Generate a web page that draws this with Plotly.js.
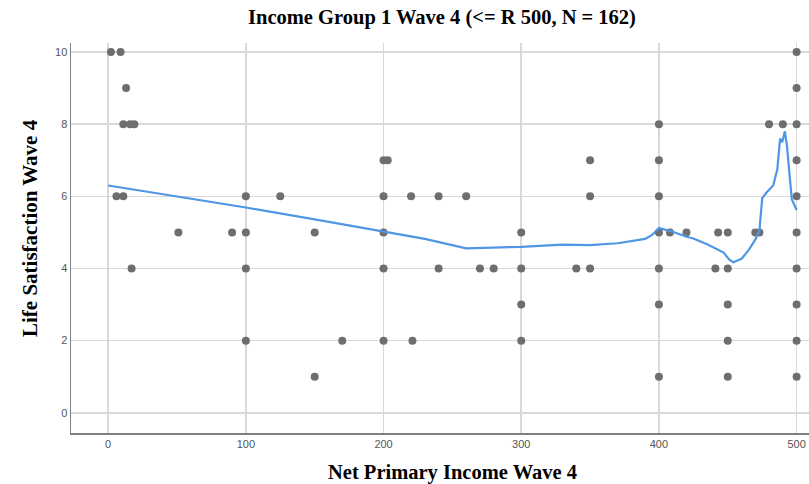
<!DOCTYPE html>
<html>
<head>
<meta charset="utf-8">
<script src="https://cdn.plot.ly/plotly-3.0.1.min.js"></script>
<style>html,body{margin:0;padding:0;background:#fff;}#chart{width:809px;height:484px;}</style>
</head>
<body>
<div id="chart"></div>
<script>
// Scatter points: Net Primary Income Wave 4 vs Life Satisfaction Wave 4
const incomeX = [
  2, 9, 13, 11, 16, 19, 6, 11, 17,
  51, 90, 100, 100, 100, 100, 125, 150, 150, 170,
  200, 203, 200, 200, 200, 200, 220, 221, 240, 240, 260, 270, 280,
  300, 300, 300, 300, 340, 350, 350, 350,
  400, 400, 400, 400, 400, 400, 400, 408, 420, 443, 441,
  450, 450, 450, 450, 450, 470, 473, 480, 490,
  500, 500, 500, 500, 500, 500, 500, 500, 500, 500
];
const satisfactionY = [
  10, 10, 9, 8, 8, 8, 6, 6, 4,
  5, 5, 6, 5, 4, 2, 6, 5, 1, 2,
  7, 7, 6, 5, 4, 2, 6, 2, 6, 4, 6, 4, 4,
  5, 4, 3, 2, 4, 7, 6, 4,
  8, 7, 6, 5, 4, 3, 1, 5, 5, 5, 4,
  5, 4, 3, 2, 1, 5, 5, 8, 8,
  10, 9, 8, 7, 6, 5, 4, 3, 2, 1
];
// Loess fit line
const fitX = [0, 50, 100, 150, 200, 230, 260, 300, 330, 350, 370, 390, 395, 400, 405, 410, 420, 425, 435, 447, 451, 454, 460, 465, 470, 473, 475, 478, 483, 486, 488, 489.5, 491.5, 493, 496.5, 500];
const fitY = [6.3, 6.0, 5.69, 5.36, 5.03, 4.82, 4.56, 4.6, 4.66, 4.65, 4.7, 4.82, 4.93, 5.12, 5.07, 5.02, 4.88, 4.83, 4.67, 4.44, 4.25, 4.17, 4.27, 4.5, 4.8, 5.05, 5.95, 6.1, 6.3, 6.75, 7.6, 7.5, 7.8, 7.4, 5.92, 5.62];

const xTicks = [0, 100, 200, 300, 400, 500];
const yTicks = [0, 2, 4, 6, 8, 10];

const chartTitle = 'Income Group 1 Wave 4 (&lt;= R 500, N = 162)';
const xTitle = 'Net Primary Income Wave 4';
const yTitle = 'Life Satisfaction Wave 4';

const data = [
  {
    x: incomeX, y: satisfactionY, type: 'scatter', mode: 'markers',
    marker: {color: '#6e6e6e', size: 8}, cliponaxis: false, hoverinfo: 'x+y'
  },
  {
    x: fitX, y: fitY, type: 'scatter', mode: 'lines',
    line: {color: '#5096e6', width: 2.2}, hoverinfo: 'skip'
  }
];

const serif = '"Liberation Serif", "Times New Roman", serif';
const tickFont = {family: '"Liberation Sans", Arial, sans-serif', size: 11, color: '#555'};

const layout = {
  width: 809, height: 484,
  margin: {l: 71, r: 0, t: 43, b: 51},
  paper_bgcolor: '#fff', plot_bgcolor: '#fff',
  showlegend: false,
  title: {
    text: '<b>' + chartTitle + '</b>',
    font: {family: serif, size: 20.5, color: '#000'},
    x: 442 / 809, xanchor: 'center', xref: 'container', y: 1 - 17 / 484, yanchor: 'middle'
  },
  xaxis: {
    range: [-27, 509], tickvals: xTicks, ticktext: xTicks.map(String),
    showgrid: true, gridcolor: '#d9d9d9', gridwidth: 1.5,
    zeroline: false, showline: true, linecolor: '#808080', linewidth: 1.5,
    ticks: '', tickfont: tickFont
  },
  yaxis: {
    range: [-0.56, 10.25], tickvals: yTicks, ticktext: yTicks.map(String),
    showgrid: true, gridcolor: '#d9d9d9', gridwidth: 1.5,
    zeroline: false, showline: true, linecolor: '#808080', linewidth: 1.5,
    ticks: '', tickfont: tickFont
  },
  annotations: [
    {
      text: '<b>' + xTitle + '</b>', showarrow: false,
      xref: 'paper', yref: 'paper',
      x: (452 - 71) / 738, y: -(472 - 433) / 390, xanchor: 'center', yanchor: 'middle',
      font: {family: serif, size: 20.5, color: '#000'}
    },
    {
      text: '<b>' + yTitle + '</b>', showarrow: false, textangle: -90,
      xref: 'paper', yref: 'paper',
      x: -(71 - 30) / 738, y: (433 - 228) / 390, xanchor: 'center', yanchor: 'middle',
      font: {family: serif, size: 21, color: '#000'}
    }
  ]
};

Plotly.newPlot('chart', data, layout, {displayModeBar: false, staticPlot: true});
</script>
</body>
</html>
